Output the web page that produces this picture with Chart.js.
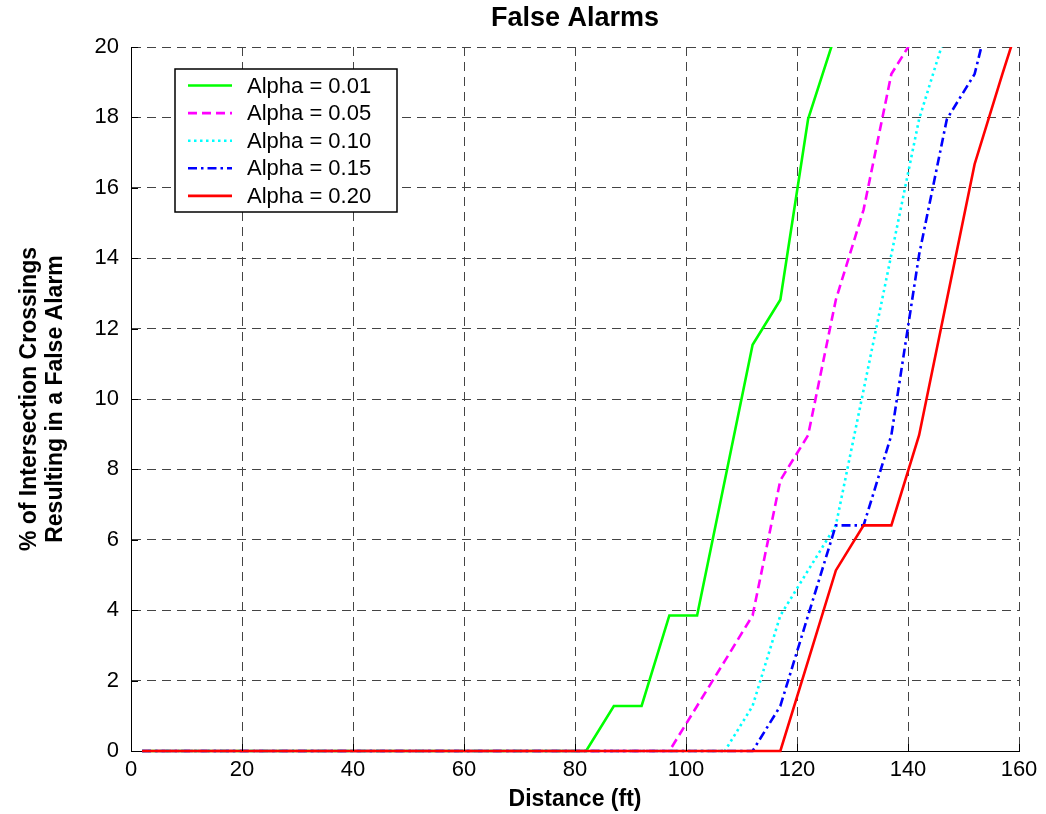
<!DOCTYPE html>
<html>
<head>
<meta charset="utf-8">
<script src="https://cdn.jsdelivr.net/npm/chart.js@4.4.1/dist/chart.umd.min.js"></script>
<style>
  html, body { margin: 0; padding: 0; background: #ffffff; }
  canvas { display: block; }
</style>
</head>
<body>
<canvas id="c" width="1046" height="814"></canvas>
<script>
// ---- data ----
const distances = [2, 7, 12, 17, 22, 27, 32, 37, 42, 47, 52, 57, 62, 67, 72, 77, 82,
                   87, 92, 97, 102, 107, 112, 117, 122, 127, 132, 137, 142, 147, 152, 157, 162];

const alpha001 = [0, 0, 0, 0, 0, 0, 0, 0, 0, 0, 0, 0, 0, 0, 0, 0, 0,
                  1.28, 1.28, 3.85, 3.85, 7.69, 11.54, 12.82, 17.95, 20.4,
                  null, null, null, null, null, null, null];

const alpha005 = [0, 0, 0, 0, 0, 0, 0, 0, 0, 0, 0, 0, 0, 0, 0, 0, 0,
                  0, 0, 0, 1.28, 2.56, 3.85, 7.69, 8.97, 12.82, 15.38, 19.23, 20.5,
                  null, null, null, null];

const alpha010 = [0, 0, 0, 0, 0, 0, 0, 0, 0, 0, 0, 0, 0, 0, 0, 0, 0,
                  0, 0, 0, 0, 0, 1.28, 3.85, 5.13, 6.41, 10.26, 14.1, 17.95, 20.5,
                  null, null, null];

const alpha015 = [0, 0, 0, 0, 0, 0, 0, 0, 0, 0, 0, 0, 0, 0, 0, 0, 0,
                  0, 0, 0, 0, 0, 0, 1.28, 3.85, 6.41, 6.41, 8.97, 14.1, 17.95, 19.23, 22.4,
                  null];

const alpha020 = [0, 0, 0, 0, 0, 0, 0, 0, 0, 0, 0, 0, 0, 0, 0, 0, 0,
                  0, 0, 0, 0, 0, 0, 0, 2.56, 5.13, 6.41, 6.41, 8.97, 12.82, 16.67, 19.23, 21.7];

const seriesLabels = ['Alpha = 0.01', 'Alpha = 0.05', 'Alpha = 0.10', 'Alpha = 0.15', 'Alpha = 0.20'];
const xTickValues = [0, 20, 40, 60, 80, 100, 120, 140, 160];
const yTickValues = [0, 2, 4, 6, 8, 10, 12, 14, 16, 18, 20];

// ---- styling ----
const FONT = '"Liberation Sans", Arial, Helvetica, sans-serif';
const styles = [
  { color: '#00ff00', dash: [] },
  { color: '#ff00ff', dash: [9, 5] },
  { color: '#00ffff', dash: [2.5, 3.5] },
  { color: '#0000ff', dash: [9, 4, 2.5, 4] },
  { color: '#ff0000', dash: [] }
];
const allSeries = [alpha001, alpha005, alpha010, alpha015, alpha020];

const datasets = allSeries.map((vals, i) => ({
  label: seriesLabels[i],
  data: distances.map((d, j) => ({ x: d, y: vals[j] })),
  borderColor: styles[i].color,
  backgroundColor: styles[i].color,
  borderDash: styles[i].dash,
  borderWidth: 2.6,
  pointRadius: 0,
  tension: 0,
  spanGaps: false,
  order: allSeries.length - 1 - i,
  clip: { left: 0, top: 0, right: 0, bottom: 6 }
}));

// inner tick marks (MATLAB style)
const innerTicks = {
  id: 'innerTicks',
  afterDatasetsDraw(chart) {
    const { ctx, chartArea: a, scales: { x, y } } = chart;
    ctx.save();
    ctx.strokeStyle = '#000';
    ctx.lineWidth = 1;
    ctx.setLineDash([]);
    ctx.beginPath();
    xTickValues.forEach(v => {
      const px = Math.round(x.getPixelForValue(v)) + 0.5;
      ctx.moveTo(px, a.bottom); ctx.lineTo(px, a.bottom - 7);
    });
    yTickValues.forEach(v => {
      const py = Math.round(y.getPixelForValue(v)) + 0.5;
      ctx.moveTo(a.left, py); ctx.lineTo(a.left + 7, py);
    });
    ctx.stroke();
    ctx.restore();
  }
};

// boxed legend inside the plot
const boxLegend = {
  id: 'boxLegend',
  afterDraw(chart) {
    const { ctx, chartArea: a } = chart;
    const bx = a.left + 44, by = a.top + 22, bw = 222, bh = 143;
    ctx.save();
    ctx.fillStyle = '#fff';
    ctx.fillRect(bx, by, bw, bh);
    ctx.strokeStyle = '#000';
    ctx.lineWidth = 1.5;
    ctx.setLineDash([]);
    ctx.strokeRect(bx, by, bw, bh);
    ctx.font = '22px ' + FONT;
    ctx.textBaseline = 'middle';
    ctx.textAlign = 'left';
    chart.data.datasets.forEach((ds, i) => {
      const yy = by + 16.5 + i * 27.6;
      ctx.strokeStyle = ds.borderColor;
      ctx.lineWidth = ds.borderWidth;
      ctx.setLineDash(ds.borderDash || []);
      ctx.beginPath();
      ctx.moveTo(bx + 13, yy);
      ctx.lineTo(bx + 57, yy);
      ctx.stroke();
      ctx.setLineDash([]);
      ctx.fillStyle = '#000';
      ctx.fillText(ds.label, bx + 72, yy + 1);
    });
    ctx.restore();
  }
};

new Chart(document.getElementById('c'), {
  type: 'line',
  data: { datasets },
  plugins: [innerTicks, boxLegend],
  options: {
    responsive: false,
    animation: false,
    devicePixelRatio: 1,
    layout: { padding: { left: 0, right: 27, top: 0, bottom: 0 } },
    plugins: {
      legend: { display: false },
      tooltip: { enabled: false },
      title: {
        display: true,
        text: 'False Alarms',
        fullSize: false,
        color: '#000',
        font: { family: FONT, size: 27, weight: 'bold', lineHeight: 1.2 },
        padding: { top: 2, bottom: 12.6 }
      }
    },
    scales: {
      x: {
        type: 'linear',
        min: 0, max: 160,
        afterBuildTicks: s => { s.ticks = xTickValues.map(v => ({ value: v })); },
        afterFit: s => { s.height = 63; },
        ticks: { color: '#000', font: { family: FONT, size: 22 }, padding: 6, maxRotation: 0, autoSkip: false },
        grid: { color: '#444', lineWidth: 1, drawTicks: false },
        border: { display: true, color: '#000', width: 1, dash: [9, 6] },
        title: {
          display: true, text: 'Distance (ft)', color: '#000',
          font: { family: FONT, size: 23, weight: 'bold', lineHeight: 1.13 },
          padding: { top: 0, bottom: 1 }
        }
      },
      y: {
        type: 'linear',
        min: 0, max: 20,
        afterBuildTicks: s => { s.ticks = yTickValues.map(v => ({ value: v })); },
        afterFit: s => { s.width = 131; },
        ticks: { color: '#000', font: { family: FONT, size: 22 }, padding: 12, autoSkip: false },
        grid: { color: '#444', lineWidth: 1, drawTicks: false },
        border: { display: true, color: '#000', width: 1, dash: [9, 6] },
        title: {
          display: true,
          text: ['% of Intersection Crossings', 'Resulting in a False Alarm'],
          color: '#000',
          font: { family: FONT, size: 23, weight: 'bold', lineHeight: 1.13 },
          padding: { top: 17, bottom: 0 }
        }
      }
    }
  }
});
</script>
</body>
</html>
